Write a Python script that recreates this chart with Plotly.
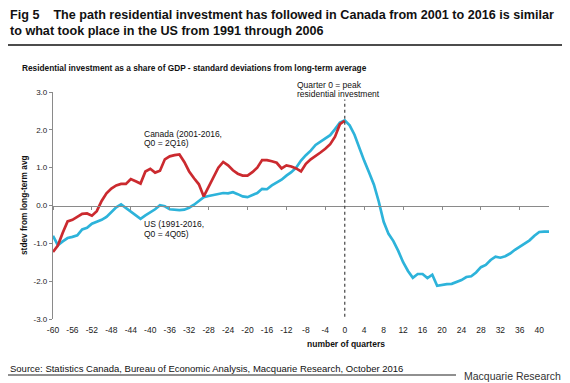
import plotly.graph_objects as go

# ---------------- data ----------------
quarters_us = list(range(-60, 43))
us_values = [
    -0.80, -1.05, -0.95, -0.86, -0.83, -0.79, -0.63, -0.59, -0.48, -0.44,
    -0.38, -0.30, -0.18, -0.05, 0.03, -0.07, -0.17, -0.26, -0.35, -0.26,
    -0.18, -0.10, 0.01, -0.02, -0.10, -0.11, -0.12, -0.11, -0.06, 0.02,
    0.12, 0.22, 0.25, 0.28, 0.32, 0.33, 0.32, 0.35, 0.30, 0.24,
    0.22, 0.27, 0.33, 0.44, 0.43, 0.53, 0.60, 0.68, 0.79, 0.88,
    1.00, 1.19, 1.33, 1.45, 1.60, 1.69, 1.77, 1.86, 2.02, 2.19,
    2.25, 2.12, 1.87, 1.50, 1.18, 0.87, 0.55, 0.10, -0.43, -0.75,
    -0.94, -1.20, -1.50, -1.73, -1.91, -1.81, -1.81, -1.92, -1.83, -2.12,
    -2.09, -2.08, -2.07, -2.03, -1.97, -1.89, -1.87, -1.77, -1.63, -1.57,
    -1.44, -1.35, -1.38, -1.34, -1.27, -1.17, -1.08, -1.01, -0.92, -0.80,
    -0.70, -0.69, -0.69,
]

quarters_canada = list(range(-60, 1))
canada_values = [
    -1.23, -1.06, -0.72, -0.42, -0.38, -0.31, -0.22, -0.21, -0.27, -0.15,
    0.12, 0.32, 0.45, 0.53, 0.57, 0.57, 0.70, 0.64, 0.58, 0.90,
    0.97, 0.87, 0.92, 1.22, 1.30, 1.33, 1.35, 1.15, 0.90, 0.72,
    0.56, 0.24, 0.50, 0.75, 1.00, 1.15, 1.06, 0.93, 0.84, 0.79,
    0.79, 0.88, 1.00, 1.20, 1.20, 1.17, 1.13, 0.98, 1.06, 1.03,
    0.98, 0.90, 1.10, 1.22, 1.30, 1.40, 1.50, 1.62, 1.82, 2.15,
    2.24,
]

x_tick_values = list(range(-60, 41, 4))
x_tick_labels = [str(v) for v in x_tick_values]
y_tick_values = [-3, -2, -1, 0, 1, 2, 3]
y_tick_labels = ["-3.0", "-2.0", "-1.0", "0.0", "1.0", "2.0", "3.0"]
peak_quarter = 0

# decorative horizontal rules (drawn across their own helper axes)
rule_x = [0, 1]
rule_y = [0, 0]

# ---------------- layout helpers ----------------
# the page body has an 8px default margin, so the figure is drawn 8px in;
# margins are zero and the plot area is set through axis domains
OFF = 8
W, H = 570 - OFF, 383 - OFF


def px_x(px):
    return (px - OFF) / W


def px_y(py):
    return 1 - (py - OFF) / H


X_DOMAIN = [px_x(53), px_x(549)]
Y_DOMAIN = [px_y(319), px_y(92)]

FONT = "Arial, Liberation Sans, sans-serif"
RED = "#CB2A2F"
BLUE = "#2DB3DA"

fig = go.Figure()

fig.add_trace(go.Scatter(
    x=quarters_us, y=us_values, mode="lines",
    line=dict(color=BLUE, width=2.7), name="US", showlegend=False,
))
fig.add_trace(go.Scatter(
    x=quarters_canada, y=canada_values, mode="lines",
    line=dict(color=RED, width=2.7), name="Canada", showlegend=False,
))
# invisible trace so the label axis is drawn
fig.add_trace(go.Scatter(
    x=[x_tick_values[0]], y=[None], xaxis="x2", mode="lines",
    showlegend=False, hoverinfo="skip",
))
# title rule and source rule
fig.add_trace(go.Scatter(
    x=rule_x, y=rule_y, xaxis="x3", yaxis="y3", mode="lines",
    line=dict(color="#111", width=1.5), showlegend=False, hoverinfo="skip",
))
fig.add_trace(go.Scatter(
    x=rule_x, y=rule_y, xaxis="x4", yaxis="y4", mode="lines",
    line=dict(color="#222", width=1.2), showlegend=False, hoverinfo="skip",
))

shapes = [
    dict(type="line", xref="x", yref="y", layer="above",
         x0=peak_quarter, x1=peak_quarter, y0=-3.1, y1=2.8,
         line=dict(color="#444", width=1.2, dash="dot")),
]

annotations = [
    dict(text="<b>Fig 5&nbsp;&nbsp;&nbsp; The path residential investment has followed in Canada from 2001 to 2016 is similar</b>",
         x=px_x(8), y=px_y(6), font=dict(size=12.6, color="#111")),
    dict(text="<b>to what took place in the US from 1991 through 2006</b>",
         x=px_x(8), y=px_y(22), font=dict(size=12.6, color="#111")),
    dict(text="<b>Residential investment as a share of GDP - standard deviations from long-term average</b>",
         x=px_x(20), y=px_y(61), font=dict(size=8.3, color="#111")),
    dict(text="<b>stdev from long-term avg</b>", textangle=-90,
         x=px_x(24), y=px_y(205), xanchor="center", yanchor="middle",
         font=dict(size=8.3, color="#111")),
    dict(text="<b>number of quarters</b>",
         x=px_x(346), y=px_y(344), xanchor="center", yanchor="middle",
         font=dict(size=8.5, color="#111")),
    dict(text="Source: Statistics Canada, Bureau of Economic Analysis, Macquarie Research, October 2016",
         x=px_x(8), y=px_y(361), font=dict(size=9.5, color="#111")),
    dict(text="Macquarie Research",
         x=px_x(563), y=px_y(368), xanchor="right", font=dict(size=10.5, color="#333")),
    dict(text="Quarter 0 = peak",
         x=px_x(295), y=px_y(85), yanchor="middle", font=dict(size=8.5, color="#111")),
    dict(text="residential investment",
         x=px_x(295), y=px_y(94), yanchor="middle", font=dict(size=8.5, color="#111")),
]
for a in annotations:
    a.setdefault("xanchor", "left")
    a.setdefault("yanchor", "top")
    a.update(xref="paper", yref="paper", showarrow=False)
    a["font"]["family"] = FONT

data_labels = [
    ("Canada (2001-2016,", -41.7, 1.90),
    ("Q0 = 2Q16)", -41.7, 1.66),
    ("US (1991-2016,", -41.7, -0.50),
    ("Q0 = 4Q05)", -41.7, -0.76),
]
for txt, qx, vy in data_labels:
    annotations.append(dict(text=txt, x=qx, y=vy, xref="x", yref="y",
                            xanchor="left", yanchor="middle", showarrow=False,
                            font=dict(family=FONT, size=8.5, color="#111")))

hidden = dict(visible=False, showgrid=False, zeroline=False, fixedrange=True)

fig.update_layout(
    width=W, height=H,
    margin=dict(l=0, r=0, t=0, b=0, pad=0, autoexpand=False),
    paper_bgcolor="white", plot_bgcolor="white",
    font=dict(family=FONT, size=8.5, color="#222"),
    showlegend=False,
    annotations=annotations,
    shapes=shapes,
    xaxis=dict(
        domain=X_DOMAIN, range=[-60, 42], anchor="free",
        position=(Y_DOMAIN[0] + Y_DOMAIN[1]) / 2,
        showline=True, linecolor="#8a8a8a", linewidth=1.2,
        ticks="outside", ticklen=3, tickcolor="#8a8a8a",
        tickmode="linear", tick0=-60, dtick=8,
        showticklabels=False, showgrid=False, zeroline=False,
    ),
    xaxis2=dict(
        domain=X_DOMAIN, range=[-60, 42], overlaying="x", anchor="y", side="bottom",
        matches="x", showline=False, ticks="", showgrid=False, zeroline=False,
        tickmode="array", tickvals=x_tick_values, ticktext=x_tick_labels,
        tickfont=dict(size=8.5, color="#222"), ticklabelstandoff=4,
    ),
    yaxis=dict(
        domain=Y_DOMAIN, range=[-3, 3], anchor="x2",
        showline=True, linecolor="#8a8a8a", linewidth=1.2,
        ticks="outside", ticklen=3, tickcolor="#8a8a8a",
        tickmode="array", tickvals=y_tick_values, ticktext=y_tick_labels,
        tickfont=dict(size=8, color="#222"),
        showgrid=False, zeroline=False,
    ),
    xaxis3=dict(domain=[px_x(8), px_x(563)], range=[0, 1], anchor="y3", **hidden),
    yaxis3=dict(domain=[px_y(50), px_y(40)], range=[-1, 1], anchor="x3", **hidden),
    xaxis4=dict(domain=[px_x(8), px_x(456)], range=[0, 1], anchor="y4", **hidden),
    yaxis4=dict(domain=[px_y(380), px_y(370)], range=[-1, 1], anchor="x4", **hidden),
)

fig.write_html("out.html")
